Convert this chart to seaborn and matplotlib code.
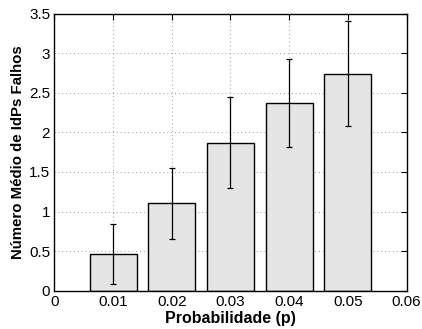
import matplotlib
matplotlib.use("Agg")
import matplotlib.pyplot as plt
import seaborn as sns
import pandas as pd

probs = [0.01, 0.02, 0.03, 0.04, 0.05]
means = [0.467, 1.104, 1.872, 2.372, 2.742]
errs = [0.38, 0.445, 0.58, 0.552, 0.66]
xticks = [0, 0.01, 0.02, 0.03, 0.04, 0.05, 0.06]
xticklabels = ["0", "0.01", "0.02", "0.03", "0.04", "0.05", "0.06"]
yticks = [0, 0.5, 1, 1.5, 2, 2.5, 3, 3.5]
yticklabels = ["0", "0.5", "1", "1.5", "2", "2.5", "3", "3.5"]

sns.set_style("white")
plt.rcParams['font.family'] = ['Liberation Sans', 'DejaVu Sans']

df = pd.DataFrame({"p": probs, "m": means})

fig = plt.figure(figsize=(4.22, 3.29), dpi=100)
ax = fig.add_axes([0.1287, 0.1164, 0.835, 0.8420])

sns.barplot(data=df, x="p", y="m", native_scale=True, width=0.8,
            color="#e5e5e5", saturation=1, edgecolor="black", linewidth=1,
            errorbar=None, ax=ax, zorder=2)
ax.errorbar(probs, means, yerr=errs, fmt="none", ecolor="black",
            elinewidth=0.9, capsize=2.5, capthick=0.9, zorder=3)

ax.set_xlim(0, 0.06)
ax.set_ylim(0, 3.5)
ax.set_xticks(xticks)
ax.set_xticklabels(xticklabels)
ax.set_yticks(yticks)
ax.set_yticklabels(yticklabels)
ax.grid(True, linestyle=(0, (1, 3)), color="#999999", linewidth=0.7, zorder=0)
ax.set_axisbelow(True)
ax.tick_params(direction="in", length=4, width=0.8, top=True, right=True,
               labelsize=11, colors="black", labelcolor="black", pad=3)
for s in ax.spines.values():
    s.set_visible(True)
    s.set_color("black")
    s.set_linewidth(1)
ax.set_xlabel("Probabilidade (p)", fontsize=11.5, fontweight="bold",
              color="black", labelpad=1.5)
ax.set_ylabel("Número Médio de IdPs Falhos", fontsize=10.8, fontweight="bold",
              color="black", labelpad=3)

fig.savefig("out.png", dpi=100)
